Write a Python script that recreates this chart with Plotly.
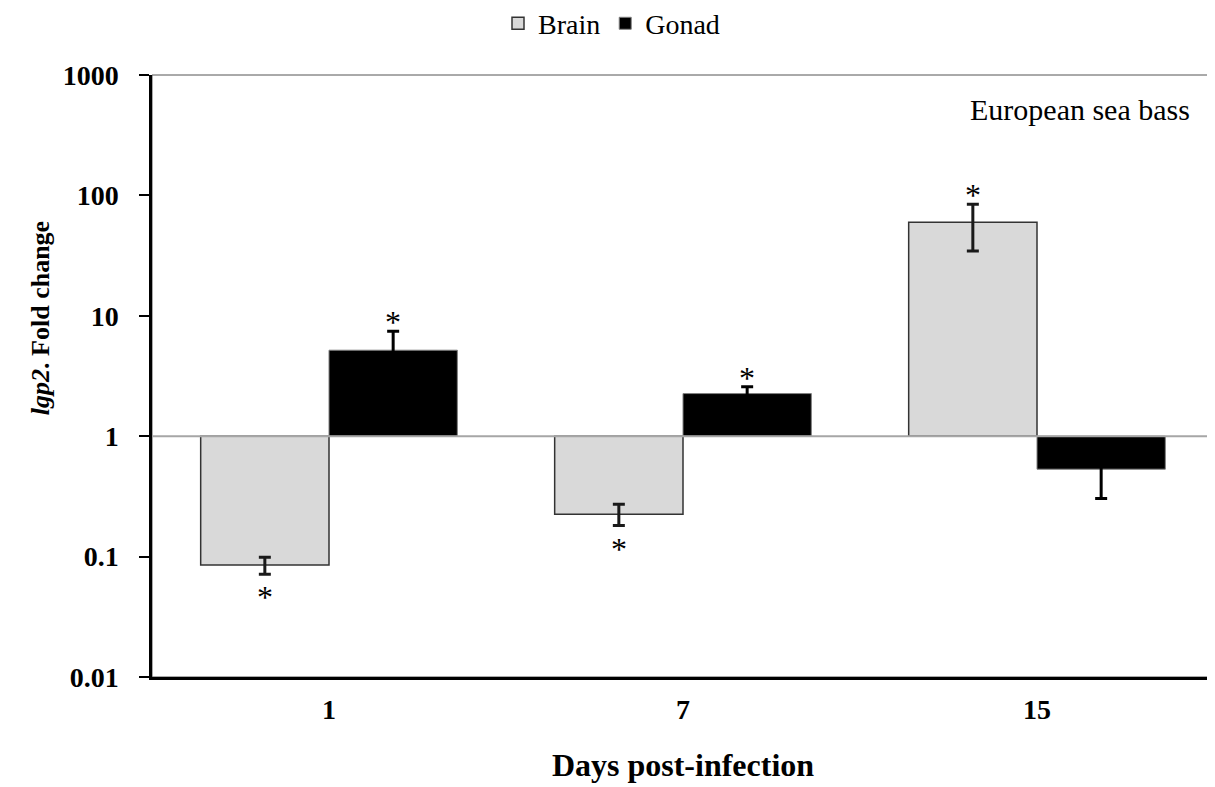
import numpy as np
import plotly.graph_objects as go

# ---- data ----
categories = ["1", "7", "15"]
brain = [0.085, 0.225, 59.9]
brain_err_plus = [0.014, 0.047, 24.6]
brain_err_minus = [0.0136, 0.044, 25.3]
gonad = [5.18, 2.26, 0.532]
gonad_err_plus = [2.27, 0.31, 0.228]
gonad_err_minus = [2.27, 0.31, 0.228]
brain_sig = [True, True, True]
gonad_sig = [True, True, False]
y_tickvals = [0.01, 0.1, 1, 10, 100, 1000]
y_ticktext = ["0.01", "0.1", "1", "10", "100", "1000"]

BARGAP = 0.275
SERIF = "Liberation Serif"

fig = go.Figure()
fig.add_trace(go.Bar(
    name="Brain", x=categories, y=[v - 1 for v in brain], base=1,
    marker=dict(color="#d9d9d9", line=dict(color="#333333", width=1.5)),
    error_y=dict(type="data", array=brain_err_plus, arrayminus=brain_err_minus,
                 color="#1a1a1a", thickness=3, width=6),
))
fig.add_trace(go.Bar(
    name="Gonad", x=categories, y=[v - 1 for v in gonad], base=1,
    marker=dict(color="#000000", line=dict(color="#808080", width=1)),
    error_y=dict(type="data", array=gonad_err_plus, arrayminus=gonad_err_minus,
                 color="#000000", thickness=3, width=6),
))

# significance asterisks
off = (1 - BARGAP) / 4
annotations = []
for vals, ep, em, sig, sgn in [
    (brain, brain_err_plus, brain_err_minus, brain_sig, -1),
    (gonad, gonad_err_plus, gonad_err_minus, gonad_sig, 1),
]:
    for i, (v, p, m, s) in enumerate(zip(vals, ep, em, sig)):
        if not s:
            continue
        up = v >= 1
        yv = v + p if up else v - m
        annotations.append(dict(
            x=i + sgn * off, y=np.log10(yv), xref="x", yref="y",
            text="*", showarrow=False, yanchor="middle",
            yshift=9 if up else -23,
            font=dict(family=SERIF, size=32, color="#000"),
        ))

annotations.append(dict(
    x=0.979, y=0.942, xref="paper", yref="paper", xanchor="right", yanchor="middle",
    text="European sea bass", showarrow=False,
    font=dict(family=SERIF, size=30, color="#000"),
))
# y-axis title (placed like the original, above the plot's mid-height)
annotations.append(dict(
    x=-0.1055, y=0.596, xref="paper", yref="paper", xanchor="center", yanchor="middle",
    text="<b><i>lgp2</i>. Fold change</b>", showarrow=False, textangle=-90,
    font=dict(family=SERIF, size=26, color="#000"),
))

fig.update_layout(
    width=1207, height=779,
    margin=dict(l=144, r=1, t=67, b=110),
    paper_bgcolor="white", plot_bgcolor="white",
    barmode="group", bargap=BARGAP, bargroupgap=0,
    font=dict(family=SERIF, color="#000"),
    showlegend=True,
    legend=dict(orientation="h", xref="container", x=0.5, xanchor="center",
                yref="container", y=0.98, yanchor="middle",
                font=dict(family=SERIF, size=28, color="#000"),
                itemwidth=30, tracegroupgap=0),
    annotations=annotations,
    shapes=[
        dict(type="rect", xref="paper", yref="paper", x0=0, x1=1, y0=0, y1=1,
             line=dict(color="#555555", width=1), layer="below"),
        dict(type="line", xref="paper", yref="y", x0=0, x1=1, y0=1, y1=1,
             line=dict(color="#a6a6a6", width=2), layer="above"),
    ],
)

fig.update_xaxes(
    type="category", showline=True, linecolor="#000", linewidth=2.5,
    ticks="", showgrid=False, zeroline=False, ticklabelstandoff=6,
    tickfont=dict(family=SERIF, size=28, color="#000", weight="bold"),
    title=dict(text="<b>Days post-infection</b>", standoff=30,
               font=dict(family=SERIF, size=32, color="#000")),
)
fig.update_yaxes(
    type="log", range=[-2, 3], tickvals=y_tickvals, ticktext=y_ticktext,
    showline=True, linecolor="#000", linewidth=2.5,
    ticks="outside", ticklen=10, tickwidth=2, tickcolor="#000",
    showgrid=False, zeroline=False, ticklabelstandoff=15,
    tickfont=dict(family=SERIF, size=28, color="#000", weight="bold"),
)

fig.write_html("out.html")
